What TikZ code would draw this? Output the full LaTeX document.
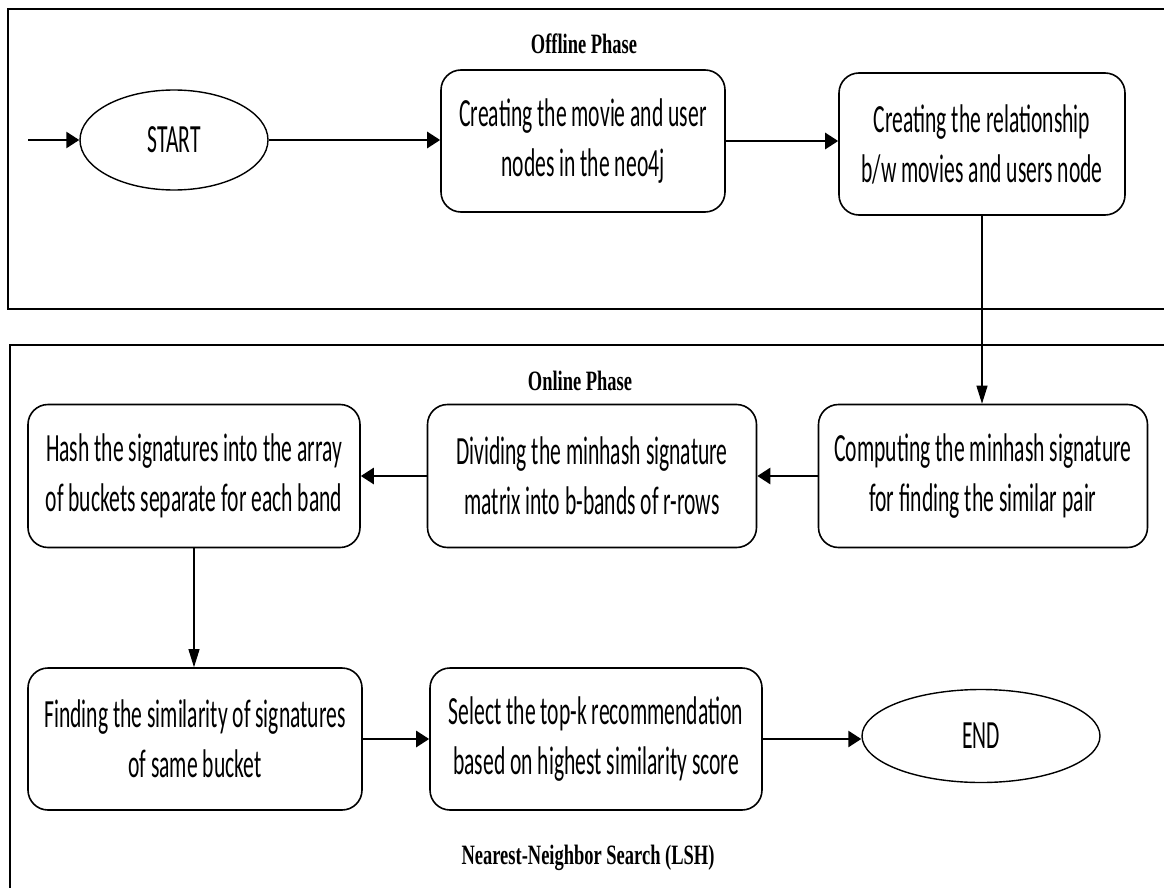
\documentclass[tikz,border=0pt]{standalone}
\usepackage{fontspec}
\newfontfamily\boxfont[FakeStretch=0.54]{Carlito}
\newfontfamily\titlefont[FakeStretch=0.66]{Liberation Serif}
\usetikzlibrary{shapes.geometric,arrows.meta}
\tikzset{
  box/.style={draw, line width=1.6pt, rectangle, rounded corners=20pt, align=center,
    font=\boxfont\fontsize{40}{50}\selectfont, inner sep=0pt},
  oval/.style={draw, line width=1.4pt, ellipse, inner sep=0pt,
    font=\boxfont\fontsize{40}{50}\selectfont},
  phasetitle/.style={font=\titlefont\bfseries\fontsize{28}{32}\selectfont, inner sep=0pt},
  frame/.style={line width=1.8pt},
  harrow/.style={line width=2.6pt, -{Triangle[length=13pt,width=16pt]}},
  varrow/.style={line width=1.1pt, -{Triangle[length=18pt,width=11pt]}}
}
\begin{document}
\begin{tikzpicture}[x=1pt,y=-1pt]
\useasboundingbox (0,0) rectangle (1164,888);
\clip (0,0) rectangle (1164,888);
\fill[white] (0,0) rectangle (1164,888);
% frames
\draw[frame] (1175,9) -- (8,9) -- (8,309) -- (1175,309);
\draw[frame] (1175,345) -- (10,345) -- (10,900);
% titles
\node[phasetitle] (offt) at (584,44) {Offline Phase};
\node[phasetitle] (onlt) at (580,381) {Online Phase};
\node[phasetitle] (nns) at (588,858) {Nearest-Neighbor Search (LSH)};
% nodes
\node[oval, minimum width=188pt, minimum height=100pt] (start) at (174,140) {START};
\node[box, minimum width=284pt, minimum height=142pt] (b1) at (583,141) {Creating the movie and user\\nodes in the neo4j};
\node[box, minimum width=286pt, minimum height=142pt] (b2) at (982,144) {Creating the relationship\\b/w movies and users node};
\node[box, minimum width=329pt, minimum height=143pt] (b3) at (983,476) {Computing the minhash signature\\for finding the similar pair};
\node[box, minimum width=329pt, minimum height=143pt] (b4) at (592,476) {Dividing the minhash signature\\matrix into b-bands of r-rows};
\node[box, minimum width=332pt, minimum height=143pt] (b5) at (194,476) {Hash the signatures into the array\\of buckets separate for each band};
\node[box, minimum width=334pt, minimum height=142pt] (b6) at (195,739) {Finding the similarity of signatures\\of same bucket};
\node[box, minimum width=332pt, minimum height=142pt] (b7) at (596,739) {Select the top-k recommendation\\based on highest similarity score};
\node[oval, minimum width=238pt, minimum height=93pt] (end) at (981,736) {END};
% connectors
\coordinate (in) at (28,140);
\draw[harrow] (in) -- (start.west);
\draw[harrow] (start.east) -- (start.east -| b1.west);
\draw[harrow] (b1.east) -- (b1.east -| b2.west);
\draw[varrow] (b2.south) -- (b2.south |- b3.north);
\draw[harrow] (b3.west) -- (b3.west -| b4.east);
\draw[harrow] (b4.west) -- (b4.west -| b5.east);
\draw[varrow] (b5.south) -- (b5.south |- b6.north);
\draw[harrow] (b6.east) -- (b6.east -| b7.west);
\draw[harrow] (b7.east) -- (b7.east -| end.west);
\end{tikzpicture}
\end{document}
